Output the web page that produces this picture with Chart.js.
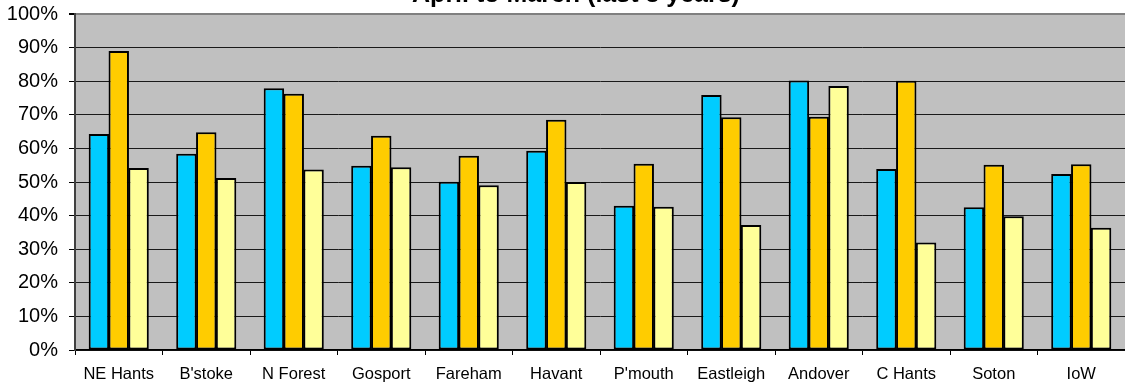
<!DOCTYPE html>
<html>
<head>
<meta charset="utf-8">
<script src="https://cdn.jsdelivr.net/npm/chart.js@4.4.1/dist/chart.umd.min.js"></script>
<style>
  html, body { margin: 0; padding: 0; background: #fff; }
  #wrap { width: 1125px; height: 385px; position: relative; }
</style>
</head>
<body>
<div id="wrap"><canvas id="chart" width="1125" height="385"></canvas></div>
<script>
const areas = ['NE Hants', "B'stoke", 'N Forest', 'Gosport', 'Fareham', 'Havant', "P'mouth", 'Eastleigh', 'Andover', 'C Hants', 'Soton', 'IoW'];
const year1 = [64.3, 58.4, 77.9, 54.8, 50.1, 59.3, 42.9, 75.9, 80.2, 53.9, 42.5, 52.4];
const year2 = [89.0, 64.8, 76.3, 63.8, 57.8, 68.5, 55.4, 69.3, 69.4, 80.1, 55.1, 55.3];
const year3 = [54.2, 51.2, 53.7, 54.4, 49.0, 50.0, 42.6, 37.2, 78.6, 32.0, 39.8, 36.4];
const titleText = 'April to March (last 3 years)';

const FONT = "'Liberation Sans', Arial, sans-serif";

// grey plot area + clipped title like the original sheet
const plotBg = {
    id: 'plotBg',
    beforeDraw(chart) {
        const { ctx, chartArea: a } = chart;
        ctx.save();
        ctx.fillStyle = '#c0c0c0';
        ctx.fillRect(a.left, a.top, a.right - a.left, a.bottom - a.top);
        ctx.restore();
    },
    afterDraw(chart) {
        const ctx = chart.ctx;
        ctx.save();
        ctx.font = 'bold 25px ' + FONT;
        ctx.fillStyle = '#000';
        ctx.textAlign = 'center';
        ctx.textBaseline = 'alphabetic';
        ctx.fillText(titleText, 576, 1.5);
        ctx.restore();
    }
};

const bar = (label, data, color) => ({
    label, data,
    backgroundColor: color,
    borderColor: '#000',
    borderWidth: 2,
    borderSkipped: false,
    categoryPercentage: 0.68,
    barPercentage: 1.03
});

new Chart(document.getElementById('chart'), {
    type: 'bar',
    data: {
        labels: areas,
        datasets: [
            bar('Year 1', year1, '#00ccff'),
            bar('Year 2', year2, '#ffcc00'),
            bar('Year 3', year3, '#ffff99')
        ]
    },
    options: {
        responsive: false,
        animation: false,
        layout: { padding: { top: 14, left: 0, right: 0, bottom: 0 } },
        plugins: { legend: { display: false }, title: { display: false }, tooltip: { enabled: false } },
        scales: {
            x: {
                afterFit: (s) => { s.height = 35; },
                border: { color: '#000', width: 1.5 },
                grid: { offset: true, drawOnChartArea: false, tickLength: 5, color: '#000' },
                ticks: { color: '#000', font: { family: FONT, size: 16.5 }, padding: 10, maxRotation: 0 }
            },
            y: {
                min: 0, max: 100,
                afterFit: (s) => { s.width = 75; },
                border: { color: '#404040', width: 2 },
                grid: {
                    color: (c) => c.tick && c.tick.value === 100 ? '#808080' : '#1a1a1a',
                    lineWidth: (c) => c.tick && c.tick.value === 100 ? 2 : 1,
                    tickColor: '#000',
                    tickLength: 6
                },
                ticks: {
                    stepSize: 10, color: '#000', padding: 11,
                    font: { family: FONT, size: 20, lineHeight: 0.2 },
                    callback: (v) => v + '%'
                }
            }
        }
    },
    plugins: [plotBg]
});
</script>
</body>
</html>
